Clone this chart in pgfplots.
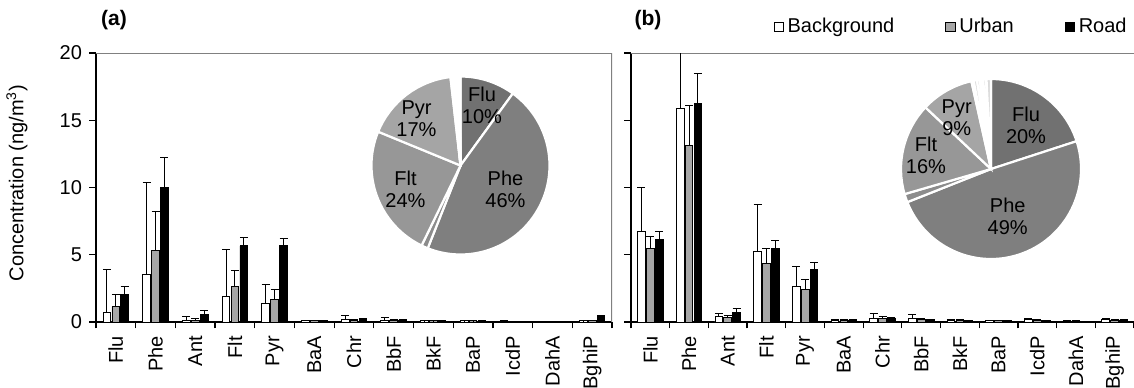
\documentclass[border=0pt]{standalone}
\usepackage{fontspec}
\setmainfont{Liberation Sans}
\usepackage{pgfplots}
\pgfplotsset{compat=1.18}
\usepackage{pgfplotstable}

\definecolor{urb}{HTML}{A6A6A6}
\definecolor{frm}{HTML}{808080}
\definecolor{pflu}{HTML}{717171}
\definecolor{pphe}{HTML}{7F7F7F}
\definecolor{pant}{HTML}{8C8C8C}
\definecolor{pflt}{HTML}{979797}
\definecolor{ppyr}{HTML}{A5A5A5}
\definecolor{pmin}{HTML}{D9D9D9}

\pgfplotstableread{
x bg bgE ur urE rd rdE
0 0.69 3.18 1.15 0.88 2.03 0.62
1 3.53 6.84 5.32 2.89 10.0 2.23
2 0.08 0.31 0.12 0.13 0.59 0.29
3 1.89 3.48 2.65 1.17 5.66 0.64
4 1.35 1.44 1.67 0.71 5.66 0.52
5 0.09 0.04 0.09 0.03 0.09 0.03
6 0.18 0.28 0.12 0.10 0.20 0.05
7 0.10 0.22 0.09 0.06 0.14 0.03
8 0.08 0.02 0.08 0.02 0.07 0.02
9 0.08 0.02 0.08 0.02 0.07 0.02
10 0.07 0.02 0.05 0.01 0.04 0.01
11 0.04 0.01 0.04 0.01 0.04 0.01
12 0.09 0.02 0.10 0.02 0.44 0.03
}\tabA

\pgfplotstableread{
x bg bgE ur urE rd rdE
0 6.75 3.23 5.44 0.89 6.13 0.59
1 15.90 5.00 13.14 2.95 16.24 2.26
2 0.39 0.27 0.34 0.18 0.71 0.28
3 5.27 3.50 4.36 1.13 5.44 0.59
4 2.64 1.45 2.41 0.74 3.92 0.54
5 0.15 0.05 0.15 0.04 0.12 0.03
6 0.30 0.30 0.28 0.12 0.30 0.03
7 0.25 0.30 0.20 0.05 0.18 0.03
8 0.15 0.03 0.15 0.03 0.10 0.02
9 0.10 0.03 0.12 0.02 0.10 0.02
10 0.20 0.05 0.15 0.03 0.10 0.02
11 0.06 0.02 0.06 0.02 0.05 0.01
12 0.20 0.06 0.15 0.03 0.15 0.03
}\tabB

\pgfplotsset{
  panel/.style={
    scale only axis, height=134.5pt,
    xmin=-0.5, xmax=12.5, ymin=0, ymax=20,
    axis lines*=left,
    axis line style={black, line width=0.6pt},
    ybar=0.6pt, bar width=3.85pt,
    legend image code/.code={\draw[##1, draw=black, line width=0.4pt] (0pt,-2.3pt) rectangle (4.6pt,2.3pt);},
    xtick={0,...,12},
    xticklabels={Flu,Phe,Ant,Flt,Pyr,BaA,Chr,BbF,BkF,BaP,IcdP,DahA,BghiP},
    major x tick style={draw=none},
    minor xtick={-0.5,0.5,...,12.5},
    ytick={0,5,10,15,20},
    tick align=outside,
    major tick length=3.5pt, minor tick length=3.2pt,
    tick style={black, line width=0.6pt},
    x tick label style={rotate=90, anchor=east, font=\fontsize{10}{12}\selectfont},
    y tick label style={font=\fontsize{10}{12}\selectfont},
    /pgf/number format/assume math mode=true,
    err/.style={error bars/.cd, y dir=plus, y explicit,
      error bar style={line width=0.5pt, black},
      error mark options={rotate=90, black, mark size=2pt, line width=0.5pt}},
  },
}

\newcommand{\pieslices}[2]{% #1 radius, #2 list pct/colour
  \foreach \p/\c [evaluate=\p as \e using \s+\p, remember=\e as \s (initially 0)] in {#2} {
    \fill[\c, draw=white, line width=1.1pt] (0,0) -- ({90-3.6*\s}:#1)
      arc[start angle={90-3.6*\s}, end angle={90-3.6*\e}, radius=#1] -- cycle;
  }%
}

\begin{document}
\begin{tikzpicture}
\useasboundingbox (0,0) rectangle (567pt,193.5pt);

% ---------- panel (a)
\begin{axis}[panel, name=A, at={(48pt,32.5pt)}, anchor=south west, width=258pt,
  ylabel={Concentration (ng/m\textsuperscript{3})},
  ylabel style={at={(axis description cs:-0.153,0.517)}, anchor=center, font=\fontsize{10}{12}\selectfont},
]
\draw[frm, line width=0.6pt] (rel axis cs:0,1) -- (rel axis cs:1,1) -- (rel axis cs:1,0);
\addplot[fill=white, draw=black, line width=0.45pt, err] table[x=x, y=bg, y error=bgE] {\tabA};
\addplot[fill=urb, draw=black, line width=0.45pt, err] table[x=x, y=ur, y error=urE] {\tabA};
\addplot[fill=black, draw=black, line width=0.45pt, err] table[x=x, y=rd, y error=rdE] {\tabA};
\end{axis}

% ---------- panel (b)
\begin{axis}[panel, name=B, at={(315.5pt,32.5pt)}, anchor=south west, width=251.5pt,
  yticklabels={},
  legend columns=3,
  legend style={at={(1,1)}, anchor=south east, xshift=-1.5pt, yshift=6.5pt, draw=none, fill=none,
    font=\fontsize{10}{12}\selectfont, inner sep=0pt,
    /tikz/every even column/.append style={column sep=23.5pt},
    nodes={inner sep=2pt}},
]
\draw[frm, line width=0.6pt] (rel axis cs:0,1) -- (rel axis cs:1,1);
\addplot[fill=white, draw=black, line width=0.45pt, err] table[x=x, y=bg, y error=bgE] {\tabB};
\addplot[fill=urb, draw=black, line width=0.45pt, err] table[x=x, y=ur, y error=urE] {\tabB};
\addplot[fill=black, draw=black, line width=0.45pt, err] table[x=x, y=rd, y error=rdE] {\tabB};
\legend{Background, Urban, Road}
\end{axis}

% ---------- panel titles
\node[font=\bfseries\fontsize{10.5}{12}\selectfont] at (57pt,183.5pt) {(a)};
\node[font=\bfseries\fontsize{10.5}{12}\selectfont] at (324pt,183.5pt) {(b)};

% ---------- pie (a)
\begin{scope}[shift={(230.25pt,110.75pt)}]
  \pieslices{44.5pt}{10/pflu, 46/pphe, 1.2/pant, 24/pflt, 17/ppyr, 0.3/pmin, 0.4/pmin, 0.3/pmin, 0.2/pmin, 0.2/pmin, 0.1/pmin, 0.1/pmin, 0.2/pmin}
  \begin{scope}[every node/.style={align=center, font=\fontsize{10}{11}\selectfont, inner sep=0pt}]
  \node at (10.75pt,30pt) {Flu\\10\%};
  \node at (22.5pt,-11.75pt) {Phe\\46\%};
  \node at (-27.5pt,-11.75pt) {Flt\\24\%};
  \node at (-22pt,23.25pt) {Pyr\\17\%};
  \end{scope}
\end{scope}

% ---------- pie (b)
\begin{scope}[shift={(495.5pt,109pt)}]
  \pieslices{45pt}{20/pflu, 49/pphe, 1.5/pant, 16.5/pflt, 9.5/ppyr, 0.4/pmin, 0.6/pmin, 0.5/pmin, 0.3/pmin, 0.3/pmin, 0.5/pmin, 0.1/pmin, 0.8/pmin}
  \begin{scope}[every node/.style={align=center, font=\fontsize{10}{11}\selectfont, inner sep=0pt}]
  \node at (17.5pt,22pt) {Flu\\20\%};
  \node at (8.35pt,-23.85pt) {Phe\\49\%};
  \node at (-32.5pt,7pt) {Flt\\16\%};
  \node at (-17.15pt,25.85pt) {Pyr\\9\%};
  \end{scope}
\end{scope}
\end{tikzpicture}
\end{document}
